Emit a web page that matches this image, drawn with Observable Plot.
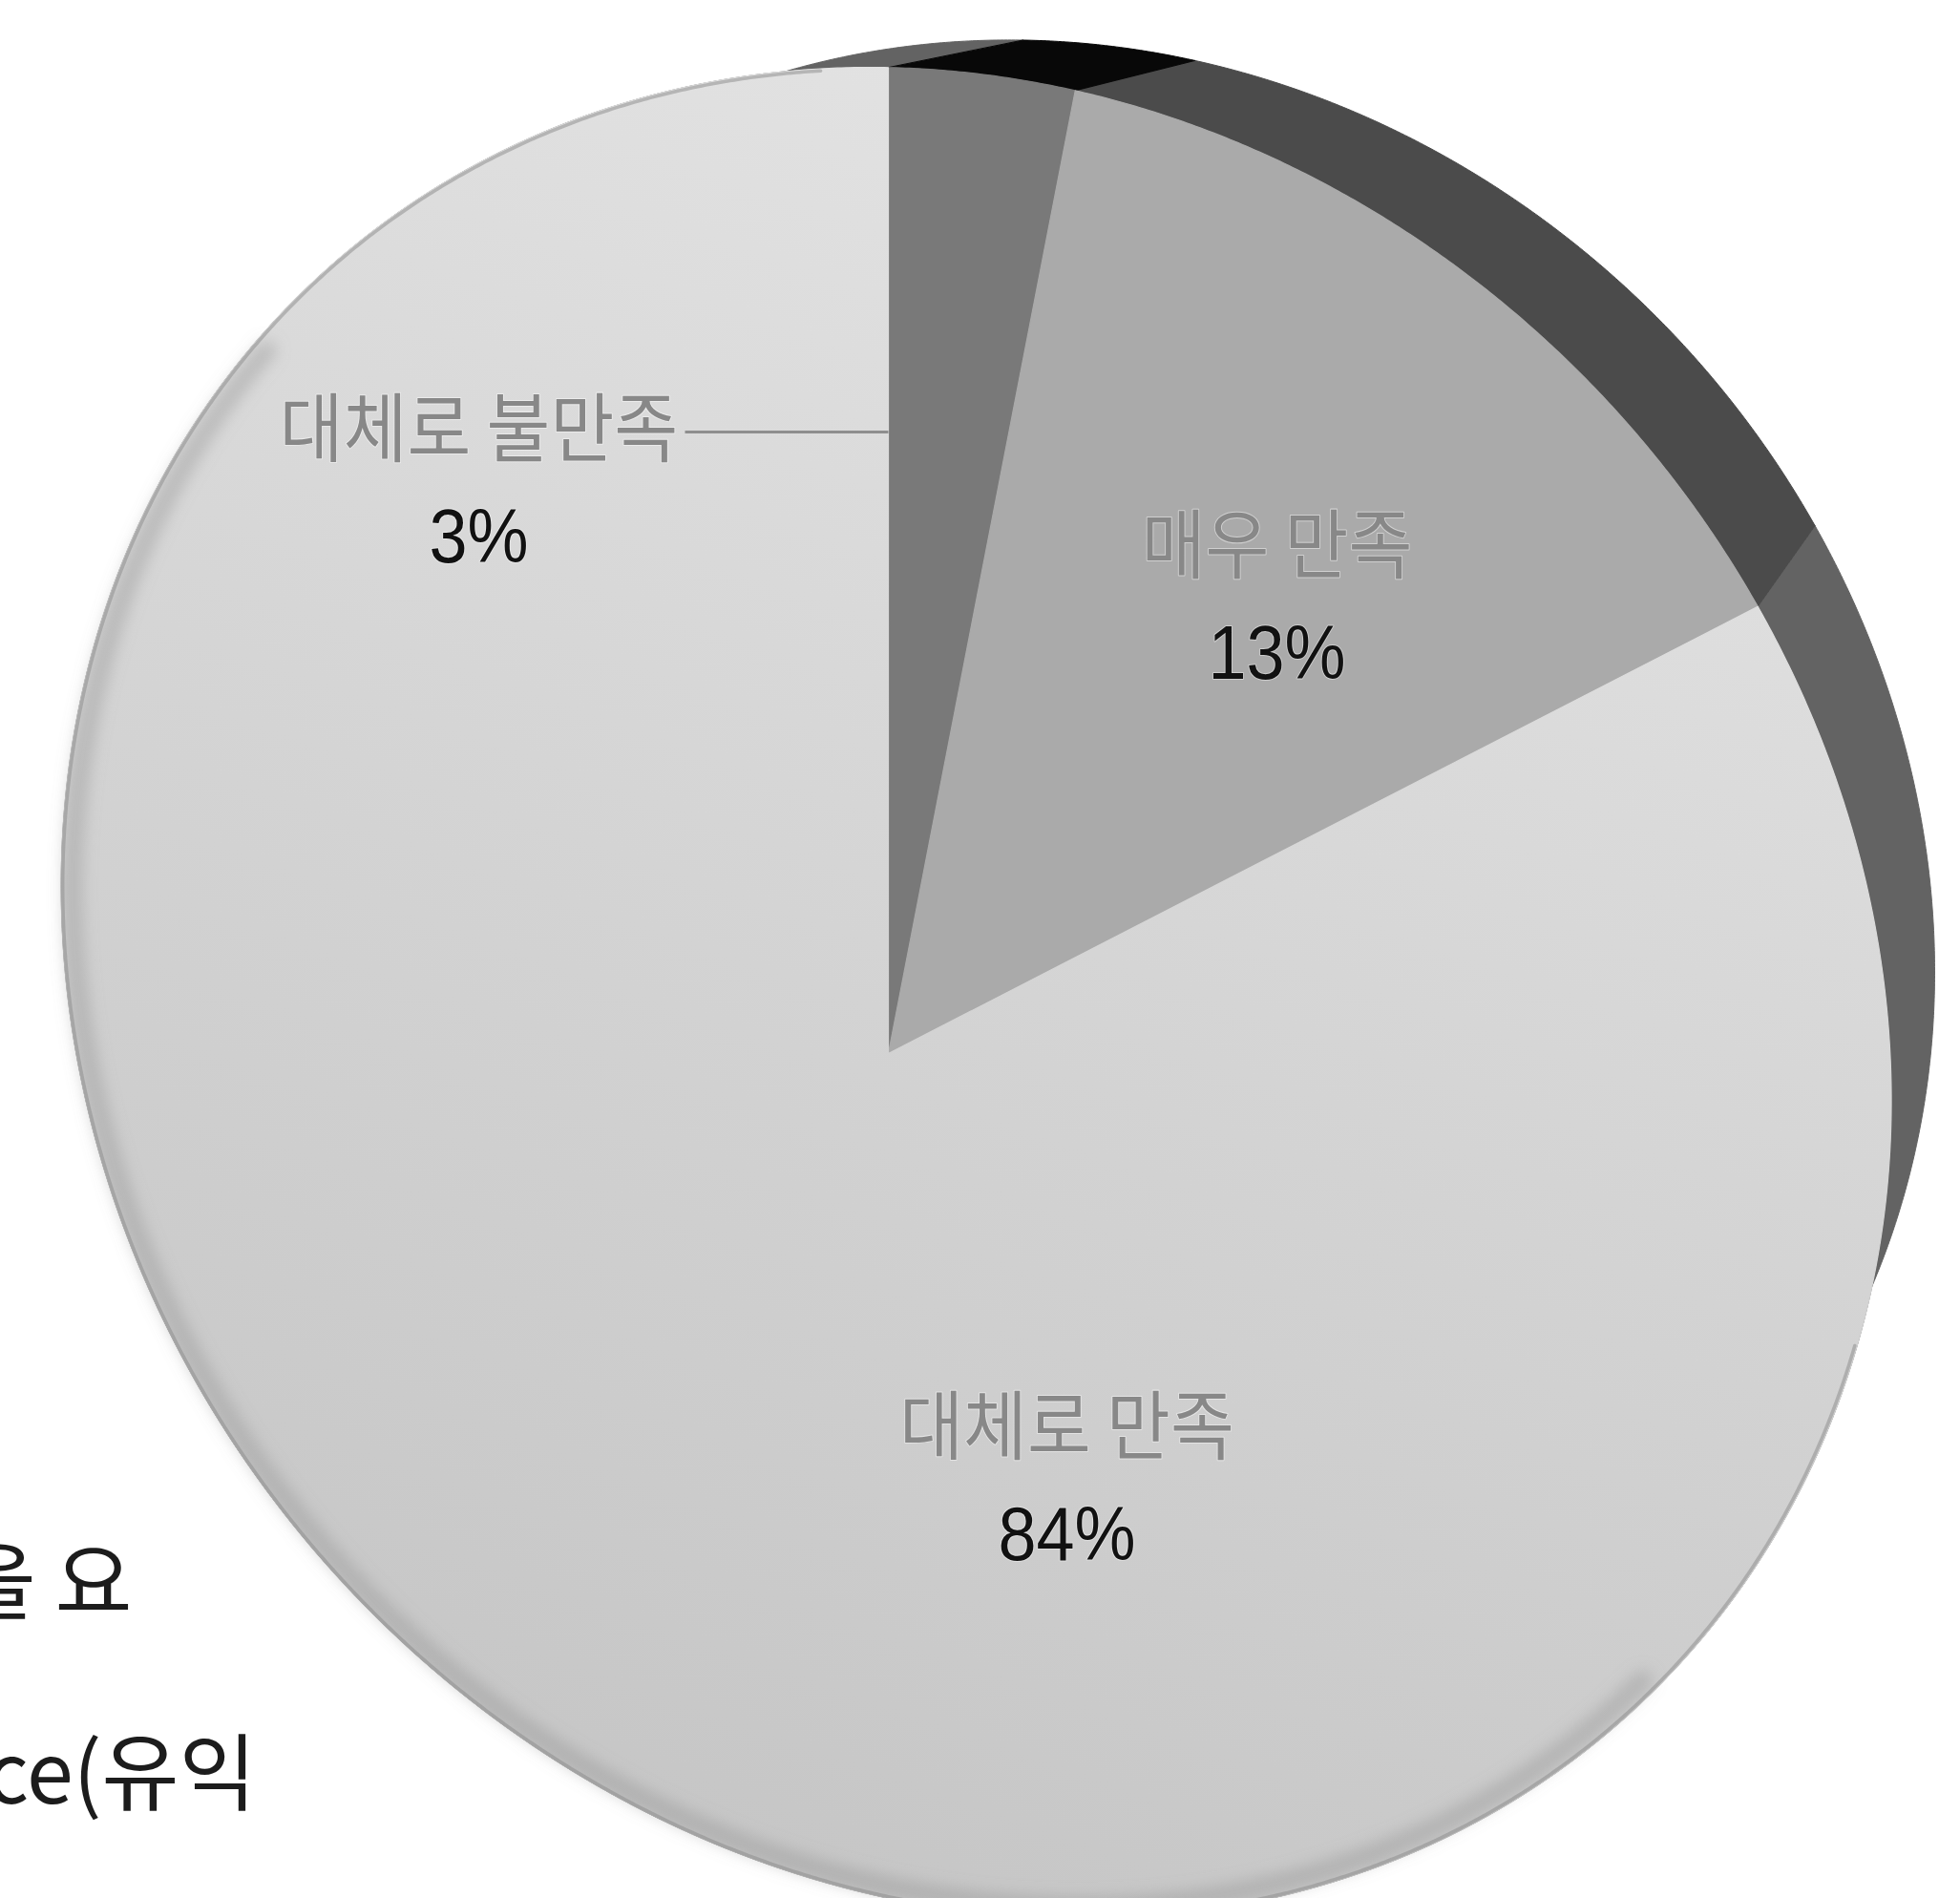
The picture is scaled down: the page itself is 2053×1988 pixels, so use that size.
<!DOCTYPE html>
<html>
<head>
<meta charset="utf-8">
<script src="https://cdn.jsdelivr.net/npm/d3@7"></script>
<script src="https://cdn.jsdelivr.net/npm/@observablehq/plot@0.6"></script>
<style>
  html, body { margin: 0; padding: 0; background: #ffffff; overflow: hidden; }
  #chart svg { display: block; }
</style>
</head>
<body>
<div id="chart"></div>
<script>
// ---------------- data ----------------
const categories = ["대체로 불만족", "매우 만족", "대체로 만족"];
const values = [3, 13, 84];
const percentLabels = ["3%", "13%", "84%"];
// fragments of the surrounding page text (cut off at the left edge)
const bodyFragments = ["을 요", "ce(유익"];

// ---------------- styles ----------------
const faceColors = ["#797979", "#aaaaaa", "url(#face84)"];
const sideColors = ["#080808", "#4b4b4b", "#636363"];
const sideKeys = categories.map(c => c + " 측면");

// ---------------- layout ----------------
const W = 2053, H = 1988;
const apexPx = [930, 1103];   // pie centre in pixels
const unitPx = 950;           // pixels per pie-radius unit
// perspective of the tilted pie (homography of the unit disk)
const proj = {ax: 0.9966, ay: 1.0032, sh: 0.1244, bx: -0.0958, by: 0.0772};
// vanishing point of the pie's thickness and its depth
const vanish = {x: 1.611, y: -1.414, k: 0.094};
// label anchors (pie units, relative to centre)
const labelLayout = [
  {x: -0.4516, y: -0.6853, leaderFrom: -0.2242, leaderTo: 0.0},
  {x: 0.4284, y: -0.5568},
  {x: 0.1968, y: 0.4147}
];
const pctOffset = 111;

// ---------------- geometry from the values ----------------
function project(a, r = 1) {
  const u = r * Math.sin(a), v = -r * Math.cos(a);
  const D = 1 + proj.bx * u + proj.by * v;
  return {x: proj.ax * u / D, y: (proj.ay * v + proj.sh * u) / D, D};
}
function lift(p) {
  const t = vanish.k / (p.D + vanish.k);
  return {x: p.x + t * (vanish.x - p.x), y: p.y + t * (vanish.y - p.y)};
}
function arcAngles(a0, a1) {
  const n = Math.max(2, Math.ceil((a1 - a0) / (Math.PI / 720)));
  return d3.range(n + 1).map(i => a0 + (a1 - a0) * i / n);
}

const arcs = d3.pie().sort(null).value(d => d)(values);

const facePts = [];
const sidePts = [];
arcs.forEach((arc, i) => {
  const angs = arcAngles(arc.startAngle, arc.endAngle);
  const top = angs.map(a => project(a));
  facePts.push({key: categories[i], x: 0, y: 0});
  top.forEach(p => facePts.push({key: categories[i], x: p.x, y: p.y}));
  const bottom = top.map(lift);
  top.forEach(p => sidePts.push({key: sideKeys[i], x: p.x, y: p.y}));
  bottom.slice().reverse().forEach(p => sidePts.push({key: sideKeys[i], x: p.x, y: p.y}));
});
// draw walls so the smaller slices end on top
const sideOrder = [2, 1, 0];
const sidePtsOrdered = sideOrder.flatMap(i => sidePts.filter(d => d.key === sideKeys[i]));

// soft shading along the lower-left rim of the large slice
const deg = Math.PI / 180;
const shadeArc = arcAngles(125 * deg, 315 * deg).map(a => project(a, 0.985));
const edgeArc = arcAngles(100 * deg, 356 * deg).map(a => project(a, 0.998));

const labelData = categories.map((c, i) => ({name: c, pct: percentLabels[i], ...labelLayout[i]}));
const leaders = labelData.filter(d => d.leaderFrom !== undefined);

const defsMark = () => {
  const ns = "http://www.w3.org/2000/svg";
  const defs = document.createElementNS(ns, "defs");
  defs.innerHTML =
    `<linearGradient id="face84" x1="0.6" y1="0" x2="0.25" y2="1">
       <stop offset="0" stop-color="#e3e3e3"/>
       <stop offset="0.5" stop-color="#d3d3d3"/>
       <stop offset="1" stop-color="#c4c4c4"/>
     </linearGradient>
     <filter id="softblur" x="-10%" y="-10%" width="120%" height="120%">
       <feGaussianBlur stdDeviation="8"/>
     </filter>`;
  return defs;
};

const svg = Plot.plot({
  width: W,
  height: H,
  margin: 0,
  style: {background: "#ffffff"},
  x: {domain: [-apexPx[0] / unitPx, (W - apexPx[0]) / unitPx], range: [0, W], axis: null},
  y: {domain: [-apexPx[1] / unitPx, (H - apexPx[1]) / unitPx], range: [0, H], axis: null},
  color: {domain: [...categories, ...sideKeys], range: [...faceColors, ...sideColors]},
  marks: [
    defsMark,
    // the visible thickness of the pie
    Plot.line(sidePtsOrdered, {x: "x", y: "y", z: "key", fill: "key", stroke: "key", strokeWidth: 1, curve: "linear-closed"}),
    // the top faces of the slices
    Plot.line(facePts, {x: "x", y: "y", z: "key", fill: "key", stroke: "key", strokeWidth: 1.2, curve: "linear-closed"}),
    // shading of the lower-left edge
    Plot.line(shadeArc, {x: "x", y: "y", stroke: "#8f8f8f", strokeWidth: 20, strokeOpacity: 0.4}),
    Plot.line(edgeArc, {x: "x", y: "y", stroke: "#8a8a8a", strokeWidth: 3.5, strokeOpacity: 0.5}),
    // leader line for the small slice
    Plot.link(leaders, {x1: "leaderFrom", x2: "leaderTo", y1: "y", y2: "y", stroke: "#8e8e8e", strokeWidth: 3}),
    // category names
    Plot.text(labelData, {
      x: "x", y: "y", text: "name", textAnchor: "middle", lineAnchor: "middle",
      fontFamily: "Noto Sans CJK KR", fontSize: 79, fill: "#888888",
      stroke: "#ffffff", strokeWidth: 2, strokeOpacity: 0.45, paintOrder: "stroke"
    }),
    // percentages
    Plot.text(labelData, {
      x: "x", y: "y", dy: pctOffset, text: "pct", textAnchor: "middle", lineAnchor: "middle",
      fontFamily: "Liberation Sans, Arial, sans-serif", fontSize: 80, fill: "#111111",
      stroke: "#ffffff", strokeWidth: 2, strokeOpacity: 0.4, paintOrder: "stroke"
    }),
    // surrounding page text, cut by the left edge
    Plot.text([bodyFragments[0]], {
      frameAnchor: "top-left", dx: 138, dy: 1688, text: d => d, textAnchor: "end", lineAnchor: "bottom",
      fontFamily: "Noto Sans CJK KR", fontSize: 88, fill: "#1c1c1c"
    }),
    Plot.text([bodyFragments[1]], {
      frameAnchor: "top-left", dx: 268, dy: 1888, text: d => d, textAnchor: "end", lineAnchor: "bottom",
      fontFamily: "Noto Sans CJK KR", fontSize: 88, fill: "#1c1c1c"
    })
  ]
});

// soften the edge shading
svg.querySelectorAll('g[stroke="#8f8f8f"]').forEach(g => g.setAttribute("filter", "url(#softblur)"));

// condensed lettering of the labels
svg.querySelectorAll("text").forEach(t => {
  const s = t.textContent;
  let sx = null;
  if (categories.includes(s)) sx = 0.92;
  else if (percentLabels.includes(s)) sx = 0.9;
  if (sx === null) return;
  const tr = t.getAttribute("transform");
  if (tr) {
    t.setAttribute("transform", tr + ` scale(${sx},1)`);
  } else {
    const x = +t.getAttribute("x") || 0, y = +t.getAttribute("y") || 0;
    t.removeAttribute("x"); t.removeAttribute("y");
    t.setAttribute("transform", `translate(${x},${y}) scale(${sx},1)`);
  }
});

document.getElementById("chart").appendChild(svg);
</script>
</body>
</html>
